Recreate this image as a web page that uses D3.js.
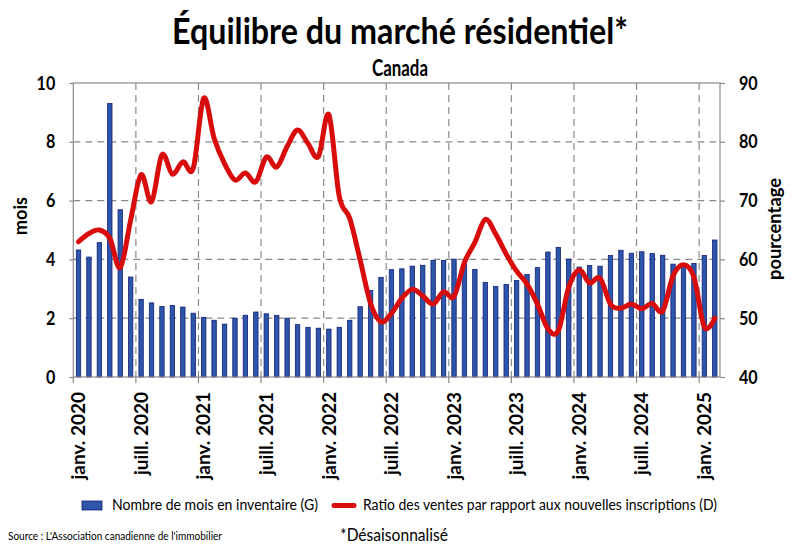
<!DOCTYPE html>
<html>
<head>
<meta charset="utf-8">
<script src="https://cdn.jsdelivr.net/npm/d3@7"></script>
<style>
body { margin: 0; background: #fff; }
text { font-family: Lato, "Open Sans", sans-serif; fill: #000; }
</style>
</head>
<body>
<div id="chart"></div>
<script>
// months janv. 2020 -> févr. 2025
var months = d3.timeMonth.range(new Date(2020, 0, 1), new Date(2025, 2, 1));

// Nombre de mois en inventaire (G)
var inventory = [4.32, 4.08, 4.57, 9.30, 5.69, 3.40, 2.64, 2.52, 2.40, 2.43, 2.38, 2.17,
                 2.03, 1.93, 1.80, 2.00, 2.10, 2.21, 2.15, 2.09, 2.00, 1.78, 1.69, 1.66,
                 1.63, 1.69, 1.93, 2.39, 2.94, 3.39, 3.65, 3.68, 3.77, 3.80, 3.96, 3.96,
                 4.01, 3.85, 3.66, 3.22, 3.08, 3.15, 3.28, 3.49, 3.72, 4.25, 4.41, 4.01,
                 3.74, 3.79, 3.77, 4.13, 4.31, 4.21, 4.26, 4.20, 4.14, 3.84, 3.82, 3.86,
                 4.13, 4.66];

// Ratio des ventes par rapport aux nouvelles inscriptions (D)
var ratio = [63.0, 64.4, 65.0, 63.6, 58.6, 66.7, 74.4, 69.8, 77.8, 74.5, 76.6, 75.5,
             87.4, 80.6, 76.3, 73.5, 74.7, 73.2, 77.4, 75.7, 79.2, 82.0, 79.7, 77.5,
             84.6, 70.7, 67.0, 59.9, 52.5, 49.4, 50.8, 53.4, 54.9, 53.8, 52.4, 54.5,
             53.7, 59.5, 62.9, 66.8, 64.3, 60.9, 58.0, 55.8, 52.4, 48.2, 47.9, 55.3,
             58.2, 56.0, 56.8, 52.4, 51.7, 52.4, 51.6, 52.5, 51.2, 57.2, 59.1, 57.0,
             48.5, 50.0];

var tickLabels = ["janv. 2020", "juill. 2020", "janv. 2021", "juill. 2021", "janv. 2022",
                  "juill. 2022", "janv. 2023", "juill. 2023", "janv. 2024", "juill. 2024",
                  "janv. 2025"];
var leftTicks = [0, 2, 4, 6, 8, 10];
var rightTicks = [40, 50, 60, 70, 80, 90];

var width = 800, height = 548;
var plotLeft = 73.3, plotRight = 720, plotTop = 83, plotBottom = 377;
var gridColor = "#8a8a8a";
var red = "#d90c0c";

var svg = d3.select("#chart").append("svg")
    .attr("width", width)
    .attr("height", height);

// fit text to a given width (reference font is narrower)
function fit(sel, w) {
  sel.attr("textLength", w).attr("lengthAdjust", "spacingAndGlyphs");
}
function squeeze(sel, k) {
  sel.each(function() {
    this.setAttribute("textLength", this.getComputedTextLength() * k);
    this.setAttribute("lengthAdjust", "spacingAndGlyphs");
  });
}

var x = d3.scaleBand()
    .domain(d3.range(months.length))
    .range([plotLeft, plotRight]);
var yL = d3.scaleLinear().domain([0, 10]).range([plotBottom, plotTop]);
var yR = d3.scaleLinear().domain([40, 90]).range([plotBottom, plotTop]);
var cx = function(i) { return x(i) + x.bandwidth() / 2; };

// title
svg.append("text")
    .attr("x", 400).attr("y", 44)
    .attr("text-anchor", "middle")
    .attr("font-size", 36).attr("font-weight", "bold")
    .text("Équilibre du marché résidentiel*")
    .call(fit, 456);

svg.append("text")
    .attr("x", 400).attr("y", 76)
    .attr("text-anchor", "middle")
    .attr("font-size", 22).attr("font-weight", "bold")
    .text("Canada")
    .call(fit, 56);

// horizontal gridlines
svg.append("g").selectAll("line")
    .data(leftTicks.filter(function(d) { return d > 0 && d < 10; }))
    .enter().append("line")
    .attr("x1", plotLeft).attr("x2", plotRight)
    .attr("y1", function(d) { return yL(d); })
    .attr("y2", function(d) { return yL(d); })
    .attr("stroke", gridColor)
    .attr("stroke-width", 1.2)
    .attr("stroke-dasharray", "7,5");

// vertical gridlines every 6 months (on category boundaries)
var tickIdx = d3.range(0, months.length, 6);
svg.append("g").selectAll("line")
    .data(tickIdx.filter(function(d) { return d > 0; }))
    .enter().append("line")
    .attr("x1", function(d) { return x(d); })
    .attr("x2", function(d) { return x(d); })
    .attr("y1", plotTop).attr("y2", plotBottom)
    .attr("stroke", gridColor)
    .attr("stroke-width", 1.2)
    .attr("stroke-dasharray", "7,5");

// bars
svg.append("g").selectAll("rect")
    .data(inventory)
    .enter().append("rect")
    .attr("x", function(d, i) { return cx(i) - 2.2; })
    .attr("width", 4.4)
    .attr("y", function(d) { return yL(d); })
    .attr("height", function(d) { return plotBottom - yL(d); })
    .attr("fill", "#2d55a9")
    .attr("stroke", "#12207a")
    .attr("stroke-width", 0.8);

// plot frame
svg.append("rect")
    .attr("x", plotLeft).attr("y", plotTop)
    .attr("width", plotRight - plotLeft).attr("height", plotBottom - plotTop)
    .attr("fill", "none")
    .attr("stroke", gridColor)
    .attr("stroke-width", 1.2);

// ratio line
var line = d3.line()
    .x(function(d, i) { return cx(i); })
    .y(function(d) { return yR(d); })
    .curve(d3.curveCatmullRom.alpha(0));

svg.append("path")
    .datum(ratio)
    .attr("d", line)
    .attr("fill", "none")
    .attr("stroke", red)
    .attr("stroke-width", 5)
    .attr("stroke-linejoin", "round")
    .attr("stroke-linecap", "round");

// left axis
var axL = svg.append("g")
    .attr("transform", "translate(" + plotLeft + ",0)")
    .call(d3.axisLeft(yL).tickValues(leftTicks).tickSize(4).tickPadding(14));
axL.select(".domain").remove();
axL.selectAll("line").attr("stroke", gridColor).attr("stroke-width", 1.2);
axL.selectAll("text")
    .attr("font-size", 19).attr("font-weight", "bold")
    .attr("font-family", "Lato, sans-serif")
    .call(squeeze, 0.85);

// right axis
var axR = svg.append("g")
    .attr("transform", "translate(" + plotRight + ",0)")
    .call(d3.axisRight(yR).tickValues(rightTicks).tickSize(5).tickPadding(14));
axR.select(".domain").remove();
axR.selectAll("line").attr("stroke", gridColor).attr("stroke-width", 1.2);
axR.selectAll("text")
    .attr("font-size", 19).attr("font-weight", "bold")
    .attr("font-family", "Lato, sans-serif")
    .call(squeeze, 0.85);

// bottom tick marks
svg.append("g").selectAll("line")
    .data(tickIdx)
    .enter().append("line")
    .attr("x1", function(d) { return x(d); })
    .attr("x2", function(d) { return x(d); })
    .attr("y1", plotBottom).attr("y2", plotBottom + 6)
    .attr("stroke", gridColor)
    .attr("stroke-width", 1.2);

// bottom labels, rotated
svg.append("g").selectAll("text")
    .data(tickIdx)
    .enter().append("text")
    .attr("transform", function(d) { return "translate(" + cx(d) + "," + 392 + ")rotate(-90)"; })
    .attr("text-anchor", "end")
    .attr("dy", "0.35em")
    .attr("font-size", 19).attr("font-weight", "bold")
    .text(function(d, i) { return tickLabels[i]; });

// axis titles
svg.append("text")
    .attr("transform", "translate(27,216)rotate(-90)")
    .attr("text-anchor", "middle")
    .attr("font-size", 18).attr("font-weight", "bold")
    .text("mois");

svg.append("text")
    .attr("transform", "translate(781,229)rotate(-90)")
    .attr("text-anchor", "middle")
    .attr("font-size", 18).attr("font-weight", "bold")
    .text("pourcentage")
    .call(fit, 102);

// legend
svg.append("rect")
    .attr("x", 82).attr("y", 501)
    .attr("width", 20).attr("height", 9)
    .attr("fill", "#2d55a9")
    .attr("stroke", "#12207a")
    .attr("stroke-width", 0.8);
svg.append("text")
    .attr("x", 112).attr("y", 510)
    .attr("font-size", 14.5)
    .text("Nombre de mois en inventaire (G)")
    .call(fit, 206);

svg.append("line")
    .attr("x1", 334).attr("x2", 354)
    .attr("y1", 505.5).attr("y2", 505.5)
    .attr("stroke", red)
    .attr("stroke-width", 5)
    .attr("stroke-linecap", "round");
svg.append("text")
    .attr("x", 363).attr("y", 510)
    .attr("font-size", 14.5)
    .text("Ratio des ventes par rapport aux nouvelles inscriptions (D)")
    .call(fit, 354);

// footer
svg.append("text")
    .attr("x", 8).attr("y", 540)
    .attr("font-size", 11)
    .text("Source : L'Association canadienne de l'immobilier")
    .call(fit, 214);

svg.append("text")
    .attr("x", 340).attr("y", 541)
    .attr("font-size", 16.5)
    .text("*Désaisonnalisé")
    .call(fit, 108);
</script>
</body>
</html>
